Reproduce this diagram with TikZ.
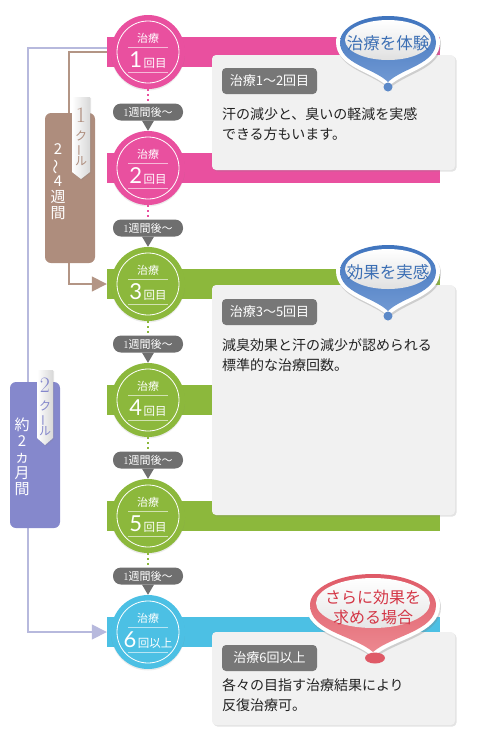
\documentclass[tikz,border=0pt]{standalone}
\usepackage{fontspec,graphicx}
\usetikzlibrary{arrows.meta,positioning,shadows,calc}
\newfontfamily\jp{Noto Sans CJK JP}
\newfontfamily\numf{Lato}
\definecolor{pk}{HTML}{E9509F}
\definecolor{gr}{HTML}{8CB83C}
\definecolor{bl}{HTML}{4CC0E4}
\definecolor{brn}{HTML}{AE8D7D}
\definecolor{brnline}{HTML}{B39585}
\definecolor{pur}{HTML}{8588CC}
\definecolor{purline}{HTML}{B7B9DD}
\definecolor{pillc}{HTML}{6F6F6F}
\definecolor{lblc}{HTML}{777777}
\definecolor{cardbg}{HTML}{F1F1F1}
\definecolor{ink}{HTML}{222222}
\definecolor{bbl}{HTML}{3F74BE}
\definecolor{bbllight}{HTML}{7199D3}
\definecolor{btext}{HTML}{3C6FB4}
\definecolor{rbl}{HTML}{DF5A67}
\definecolor{rbllight}{HTML}{EC8890}
\definecolor{rtext}{HTML}{D43646}
\definecolor{ribbonc}{HTML}{D8D8D8}
\newcommand\pinshape[5]{(#1,#5) .. controls ({#1-0.3*#3},{#5-0.35*(#5-#2)}) and ({#1-#3},{#2+0.85*#4}) .. ({#1-#3},#2) .. controls ({#1-#3},{#2-0.552*#4}) and ({#1-0.552*#3},{#2-#4}) .. (#1,{#2-#4}) .. controls ({#1+0.552*#3},{#2-#4}) and ({#1+#3},{#2-0.552*#4}) .. ({#1+#3},#2) .. controls ({#1+#3},{#2+0.85*#4}) and ({#1+0.3*#3},{#5-0.35*(#5-#2)}) .. (#1,#5) -- cycle}
\tikzset{
  stripe/.style={rectangle, inner sep=0pt, minimum width=333pt, minimum height=30pt},
  stage/.style={circle, inner sep=0pt, minimum size=74pt, drop shadow={opacity=0.15, shadow xshift=0pt, shadow yshift=-1.5pt}},
  ring/.style={white, line width=0.8pt},
  rule/.style={white, opacity=0.6, line width=0.6pt},
  wk/.style={rectangle, rounded corners=8pt, fill=pillc, text=white, inner sep=0pt, minimum width=70pt, minimum height=17pt, font=\jp\fontsize{11}{11}\selectfont},
  card/.style={rectangle, rounded corners=4pt, fill=cardbg, inner sep=0pt, minimum width=243pt, drop shadow={opacity=0.22, shadow xshift=1.5pt, shadow yshift=-1.5pt}},
  cardlbl/.style={rectangle, rounded corners=4pt, fill=lblc, text=white, inner sep=0pt, minimum width=95pt, minimum height=26pt, anchor=north west, font=\jp\fontsize{13}{13}\selectfont},
  cardtxt/.style={anchor=north west, inner sep=0pt, align=left, text=ink, font=\jp\fontsize{14}{20}\selectfont},
  period/.style={rectangle, rounded corners=6pt, inner sep=0pt, minimum width=50pt},
  vtxt/.style={align=center, inner sep=0pt, text=white, font=\jp\fontsize{15}{16}\selectfont},
  cyc/.style={align=center, inner sep=0pt, font=\jp\fontsize{12}{12.5}\selectfont},
  ribbon/.style={left color=white, right color=ribbonc, drop shadow={opacity=0.2, shadow xshift=1pt, shadow yshift=-1pt}},
  cyclink/.style={line width=1.6pt, -{Triangle[length=15pt, width=15pt]}},
  dots/.style={line width=1.8pt, dash pattern=on 1.8pt off 3pt},
}
\begin{document}
\begin{tikzpicture}[x=1pt, y=-1pt]
  \useasboundingbox (0,0) rectangle (477,740);
  \foreach \i/\y/\col in {1/52/pk,2/168/pk,3/284/gr,4/400/gr,5/516/gr,6/632/bl}
    \node[stripe, fill=\col] (b\i) at (273.5,\y) {};
  \draw[cyclink, purline] ([yshift=4pt]b1.west) -- ++(-79,0) |- (b6.west);
  \draw[cyclink, brnline] (b1.west) -- ++(-38,0) |- (b3.west);
  \foreach \i/\y/\col/\num/\suf in {1/52/pk/1/回目,2/168/pk/2/回目,3/284/gr/3/回目,4/400/gr/4/回目,5/516/gr/5/回目,6/632/bl/6/回以上}{
    \node[stage, fill=\col] (c\i) at (148,\y) {};
    \draw[ring] (c\i.center) circle (31);
    \draw[rule] (128,\y-5) -- (168,\y-5) (128,\y+20) -- (168,\y+20);
    \node[white, inner sep=0pt, font=\jp\fontsize{11}{11}\selectfont] (h\i) at (148,\y-14) {治療};
    \node[white, inner sep=0pt] (n\i) at (148,\y+8) {{\numf\fontsize{22}{22}\selectfont\num}\,{\jp\fontsize{11.5}{11.5}\selectfont\suf}};
  }
  \foreach \i/\y/\col in {1/112/pk,2/228/pk,3/344/gr,4/460/gr,5/576/gr}{
    \pgfmathtruncatemacro\j{\i+1}
    \node[wk] (p\i) at (148,\y) {{\rmfamily 1}週間後〜};
    \draw[dots, \col] (c\i.south) -- (p\i.north);
    \fill[pillc] ([xshift=-6pt]p\i.south) -- ([xshift=6pt]p\i.south) -- (c\j.north) -- cycle;
  }
  \node[card, minimum height=115pt] (k1) at (333.5,112.5) {};
  \node[cardlbl] (l1) at ([xshift=10pt,yshift=-13pt]k1.north west) {治療1〜2回目};
  \node[cardtxt] (x1) at ([yshift=-13pt]l1.south west) {汗の減少と、臭いの軽減を実感\\できる方もいます。};
  \node[card, minimum height=230pt] (k2) at (333.5,400) {};
  \node[cardlbl] (l2) at ([xshift=10pt,yshift=-14pt]k2.north west) {治療3〜5回目};
  \node[cardtxt] (x2) at ([yshift=-13pt]l2.south west) {減臭効果と汗の減少が認められる\\標準的な治療回数。};
  \node[card, minimum height=93pt] (k3) at (333.5,678.5) {};
  \node[cardlbl] (l3) at ([xshift=10pt,yshift=-13pt]k3.north west) {治療6回以上};
  \node[cardtxt] (x3) at ([yshift=-7pt]l3.south west) {各々の目指す治療結果により\\反復治療可。};
  \foreach \cy/\ty/\nm/\txt in {42/87/q1/治療を体験,271/316/q2/効果を実感}{
    \fill[white, drop shadow={opacity=0.3, shadow xshift=1pt, shadow yshift=-2pt}] \pinshape{388}{\cy}{52}{30}{\ty};
    \shade[top color=bbl, bottom color=bbllight] \pinshape{388}{\cy}{48}{26}{\ty-5};
    \shade[top color=white, bottom color=black!12] (388,\cy-2) ellipse (43 and 20);
    \fill[bbl!85] (388,\ty) circle (4.5);
    \node[text=btext, inner sep=0pt, font=\jp\fontsize{16.5}{17}\selectfont] (\nm) at (388,\cy+1) {\txt};
  }
  \fill[white, drop shadow={opacity=0.3, shadow xshift=1pt, shadow yshift=-2pt}] \pinshape{373}{605}{67}{35}{657};
  \shade[top color=rbl, bottom color=rbllight] \pinshape{373}{605}{63}{31}{652};
  \shade[top color=white, bottom color=black!10] (373,603) ellipse (57 and 25);
  \fill[rbl] (375,658) ellipse (10 and 5.5);
  \node[text=rtext, align=center, inner sep=0pt, font=\jp\fontsize{16}{20}\selectfont] (q3) at (373,607) {さらに効果を\\求める場合};
  \node[period, fill=brn, minimum height=150pt] (v1) at (70,188) {};
  \node[vtxt] (w1) at (58,182) {2\\\rotatebox[origin=c]{90}{〜}\\4\\週\\間};
  \path[ribbon] (72,97) -- (90,97) -- (90,172) -- (81,179) -- (72,172) -- cycle;
  \node[cyc, text=brn] (r1) at (81,137) {{\rmfamily\fontsize{22}{22}\selectfont 1}\\[5pt]ク\\\rotatebox[origin=c]{90}{ー}\\ル};
  \node[period, fill=pur, minimum height=146pt] (v2) at (35,455) {};
  \node[vtxt] (w2) at (22,457) {約\\2\\ヵ\\月\\間};
  \path[ribbon] (37,370) -- (53,370) -- (53,438) -- (45,445) -- (37,438) -- cycle;
  \node[cyc, text=pur] (r2) at (45,407) {{\rmfamily\fontsize{22}{22}\selectfont 2}\\[5pt]ク\\\rotatebox[origin=c]{90}{ー}\\ル};
\end{tikzpicture}
\end{document}
